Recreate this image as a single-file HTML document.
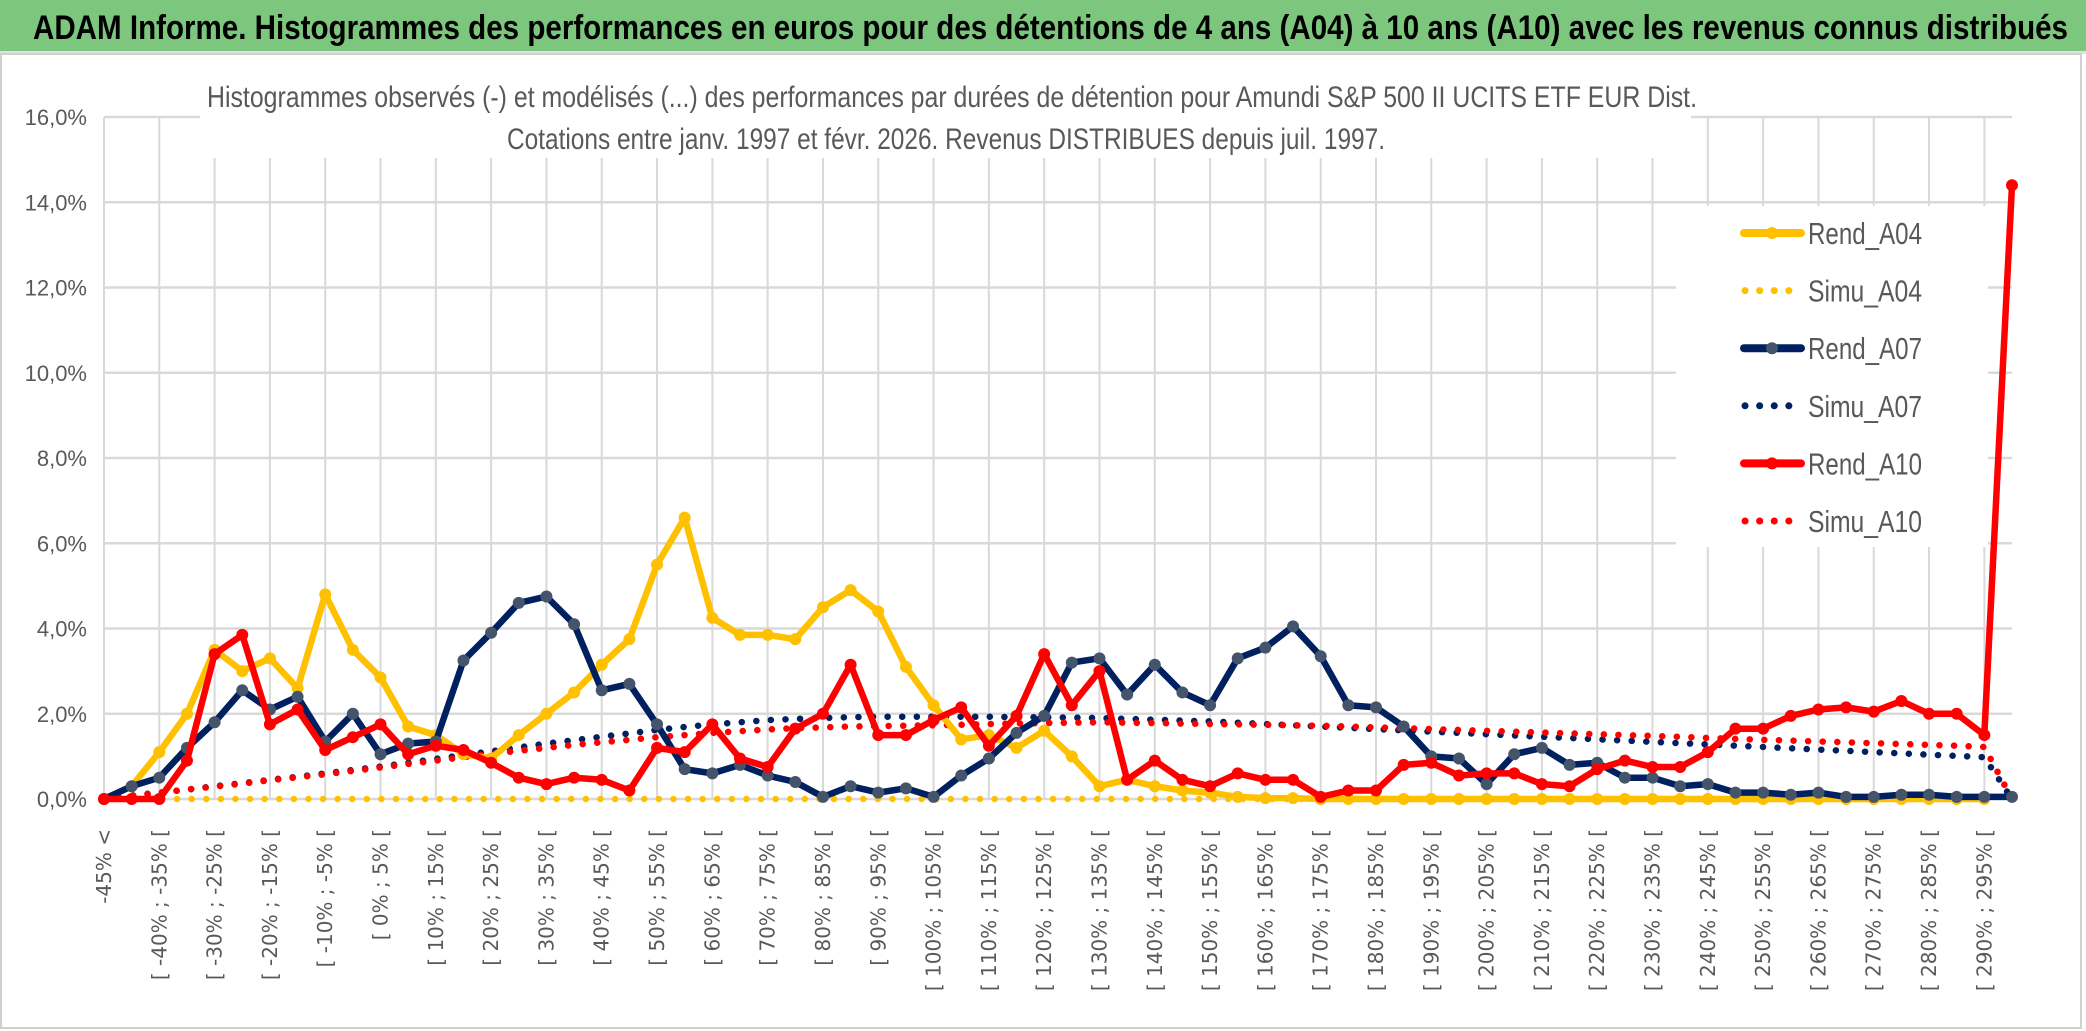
<!DOCTYPE html>
<html><head><meta charset="utf-8">
<style>
html,body{margin:0;padding:0;background:#fff;}
svg{display:block;}
</style></head>
<body>
<svg id="chart" width="2086" height="1031" xmlns="http://www.w3.org/2000/svg" font-family="'Liberation Sans Narrow','Liberation Sans',sans-serif">
  <rect x="0" y="0" width="2086" height="1031" fill="#fff"/>
  <rect x="0" y="0" width="2086" height="51" fill="#7DC67D"/>
  <rect x="0" y="51" width="2086" height="3" fill="#e0e0e0"/>
  <text x="33" y="39" font-size="34" font-weight="bold" fill="#000" textLength="2035" lengthAdjust="spacingAndGlyphs">ADAM Informe. Histogrammes des performances en euros pour des détentions de 4 ans (A04) à 10 ans (A10) avec les revenus connus distribués</text>
  <rect x="1" y="54" width="2080" height="974" fill="none" stroke="#d0d0d0" stroke-width="2"/>
  <g id="grid"></g>
  <g id="yaxis"></g>
  <g id="xaxis"></g>
  <rect x="200" y="60" width="1491" height="98" fill="#fff"/>
  <text x="207" y="107" font-size="30" fill="#595959" textLength="1490" lengthAdjust="spacingAndGlyphs">Histogrammes observés (-) et modélisés (...) des performances par durées de détention pour Amundi S&amp;P 500 II UCITS ETF EUR Dist.</text>
  <text x="507" y="149" font-size="30" fill="#595959" textLength="878" lengthAdjust="spacingAndGlyphs">Cotations entre janv. 1997 et févr. 2026. Revenus DISTRIBUES depuis juil. 1997.</text>
  <rect x="1676" y="206" width="312" height="341" fill="#fff"/>
  <g id="series"></g>
  <g id="legend"></g>
</svg>
<script>
const categories = (function(){ const c=['-45% <']; for(let k=1;k<69;k++){c.push('[ '+(-50+5*k)+'% ; '+(-45+5*k)+'% [');} c.push('295% >='); return c; })();
const yTicks = [0,2,4,6,8,10,12,14,16];
const yTickLabels = ['0,0%','2,0%','4,0%','6,0%','8,0%','10,0%','12,0%','14,0%','16,0%'];
const rendA04 = [0,0.3,1.1,2.0,3.5,3.0,3.3,2.6,4.8,3.5,2.85,1.7,1.5,1.05,0.95,1.5,2.0,2.5,3.15,3.75,5.5,6.6,4.25,3.85,3.85,3.75,4.5,4.9,4.4,3.1,2.2,1.4,1.5,1.2,1.6,1.0,0.3,0.45,0.3,0.2,0.15,0.05,0.02,0.02,0,0,0,0,0,0,0,0,0,0,0,0,0,0,0,0,0,0,0,0,0,0,0,0,0,null];
const simuA04 = [0,0,0,0,0,0,0,0,0,0,0,0,0,0,0,0,0,0,0,0,0,0,0,0,0,0,0,0,0,0,0,0,0,0,0,0,0,0,0,0,0,0,0,0,0,0,0,0,0,0,0,0,0,0,0,0,0,0,0,0,0,0,0,0,0,0,0,0,0,null];
const rendA07 = [0,0.3,0.5,1.2,1.8,2.55,2.1,2.4,1.35,2.0,1.05,1.3,1.35,3.25,3.9,4.6,4.75,4.1,2.55,2.7,1.75,0.7,0.6,0.8,0.55,0.4,0.05,0.3,0.15,0.25,0.05,0.55,0.95,1.55,1.95,3.2,3.3,2.45,3.15,2.5,2.2,3.3,3.55,4.05,3.35,2.2,2.15,1.7,1.0,0.95,0.35,1.05,1.2,0.8,0.85,0.5,0.5,0.3,0.35,0.15,0.15,0.1,0.15,0.05,0.05,0.1,0.1,0.05,0.05,0.05];
const simuA07 = [0,0.08,0.15,0.22,0.3,0.37,0.45,0.52,0.6,0.68,0.76,0.85,0.94,1.03,1.12,1.21,1.3,1.38,1.46,1.54,1.62,1.69,1.75,1.8,1.85,1.88,1.9,1.92,1.93,1.93,1.93,1.93,1.93,1.92,1.92,1.91,1.9,1.88,1.86,1.84,1.82,1.79,1.76,1.73,1.7,1.67,1.64,1.61,1.58,1.55,1.52,1.49,1.46,1.43,1.4,1.37,1.34,1.31,1.28,1.25,1.22,1.19,1.16,1.13,1.1,1.07,1.04,1.01,0.98,0];
const rendA10 = [0,0,0,0.9,3.4,3.85,1.75,2.1,1.15,1.45,1.75,1.05,1.25,1.15,0.85,0.5,0.35,0.5,0.45,0.2,1.2,1.1,1.75,0.95,0.75,1.65,2.0,3.15,1.5,1.5,1.85,2.15,1.25,1.95,3.4,2.2,3.0,0.45,0.9,0.45,0.3,0.6,0.45,0.45,0.05,0.2,0.2,0.8,0.85,0.55,0.6,0.6,0.35,0.3,0.7,0.9,0.75,0.75,1.1,1.65,1.65,1.95,2.1,2.15,2.05,2.3,2.0,2.0,1.5,14.4];
const simuA10 = [0,0.08,0.15,0.22,0.29,0.36,0.44,0.51,0.58,0.66,0.74,0.82,0.9,0.98,1.06,1.13,1.2,1.27,1.33,1.39,1.45,1.5,1.55,1.59,1.63,1.66,1.68,1.7,1.71,1.72,1.73,1.74,1.76,1.77,1.78,1.79,1.8,1.79,1.78,1.77,1.76,1.75,1.74,1.73,1.72,1.7,1.68,1.66,1.64,1.62,1.6,1.58,1.56,1.54,1.52,1.5,1.48,1.46,1.43,1.41,1.39,1.37,1.35,1.33,1.31,1.29,1.27,1.25,1.22,0];

const NS='http://www.w3.org/2000/svg';
const X0=104, X1=2012, Y0=799, Y16=117;
function xPos(i){ return X0 + i*(X1-X0)/(categories.length-1); }
function yPos(v){ return Y0 - v*(Y0-Y16)/16; }
function mk(tag, attrs, parent){ const e=document.createElementNS(NS,tag); for(const k in attrs) e.setAttribute(k,attrs[k]); parent.appendChild(e); return e; }

const grid=document.getElementById('grid');
yTicks.forEach(function(t){
  const l=mk('line',{x1:X0,x2:X1,y1:yPos(t),y2:yPos(t),stroke:'#d9d9d9','stroke-width':2.5},grid);
  
  
});
categories.forEach(function(c,i){
  if(i%2!==0) return;
  const l=mk('line',{x1:xPos(i),x2:xPos(i),y1:Y16,y2:Y0,stroke:'#d9d9d9','stroke-width':2},grid);
  
  
});

const yaxis=document.getElementById('yaxis');
yTicks.forEach(function(t,k){
  const tx=mk('text',{x:87,y:yPos(t)+8,'text-anchor':'end','font-size':22,fill:'#595959'},yaxis);
  tx.textContent=yTickLabels[k];
  
  
});

const xaxis=document.getElementById('xaxis');
categories.forEach(function(c,i){
  if(i%2!==0) return;
  const x=xPos(i)+7, y=829;
  const tx=mk('text',{x:x,y:y,'text-anchor':'end','font-size':20,fill:'#595959','font-family':"'DejaVu Sans',sans-serif",transform:'rotate(-90 '+x+' '+y+')'},xaxis);
  tx.textContent=c;
  
  
});

const series=document.getElementById('series');
function pathFor(arr){ let d=''; let pen=false; arr.forEach(function(v,i){ if(v===null){pen=false;return;} d+=(pen?'L':'M')+xPos(i).toFixed(1)+' '+yPos(v).toFixed(1)+' '; pen=true; }); return d; }
function dotted(arr,color,name){
  const p=mk('path',{d:pathFor(arr),fill:'none',stroke:color,'stroke-width':6.5,'stroke-linecap':'round','stroke-dasharray':'0.1 14.5'},series);
  
  
}
function solid(arr,color,mcolor,name){
  const p=mk('path',{d:pathFor(arr),fill:'none',stroke:color,'stroke-width':6.5,'stroke-linejoin':'round'},series);
  
  
  arr.forEach(function(v,i){
    if(v===null) return;
    const c=mk('circle',{cx:xPos(i),cy:yPos(v),r:6,fill:mcolor},series);
    
    
  });
}
dotted(simuA04,'#FFC000','simu-a04');
dotted(simuA07,'#002060','simu-a07');
dotted(simuA10,'#FF0000','simu-a10');
solid(rendA04,'#FFC000','#FFC000','rend-a04');
solid(rendA07,'#002060','#44546A','rend-a07');
solid(rendA10,'#FF0000','#FF0000','rend-a10');

const legend=document.getElementById('legend');
const legendEntries=[['Rend_A04','#FFC000','#FFC000',false],['Simu_A04','#FFC000','',true],['Rend_A07','#002060','#44546A',false],['Simu_A07','#002060','',true],['Rend_A10','#FF0000','#FF0000',false],['Simu_A10','#FF0000','',true]];
legendEntries.forEach(function(e,k){
  const y=233+k*57.6;
  const g=mk('g',{},legend);
  
  
  if(e[3]){
    mk('line',{x1:1745,x2:1800,y1:y,y2:y,stroke:e[1],'stroke-width':7,'stroke-linecap':'round','stroke-dasharray':'0.1 14.5'},g);
  } else {
    mk('line',{x1:1744,x2:1801,y1:y,y2:y,stroke:e[1],'stroke-width':8,'stroke-linecap':'round'},g);
    mk('circle',{cx:1772,cy:y,r:6,fill:e[2]},g);
  }
  const t=mk('text',{x:1808,y:y+11,'font-size':31,fill:'#595959',textLength:114,lengthAdjust:'spacingAndGlyphs'},g);
  t.textContent=e[0];
});
</script>
</body></html>
